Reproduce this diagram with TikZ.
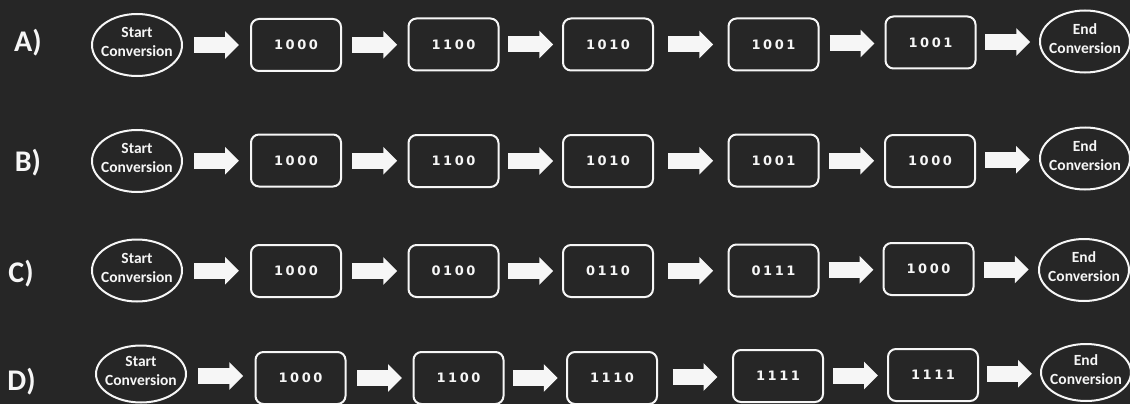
\documentclass[tikz,border=0pt]{standalone}
\usepackage{fontspec}
\setmainfont{Carlito}
\newfontfamily\digitfont[LetterSpace=20]{DejaVu Sans}
\usetikzlibrary{shapes.geometric,arrows.meta,calc}
\definecolor{bg}{HTML}{262626}
\definecolor{fg}{HTML}{F6F6F6}
\newcommand\blkarrow[2]{\draw[blockarrow] ($(#1.east)!0.5!(#2.west)+(-22.5,0)$) -- ++(45,0);}
\newcommand\termtext[2]{\makebox[0pt]{#1}\\\makebox[0pt]{#2}\rule[-6pt]{0pt}{6pt}}
\tikzset{
  term/.style={ellipse, draw=fg, line width=2pt, minimum width=90pt, minimum height=62pt,
    inner sep=0pt, text=fg, align=center, font=\bfseries\fontsize{15.5}{19}\selectfont},
  state/.style={rectangle, rounded corners=8pt, draw=fg, line width=2pt, minimum width=90pt,
    minimum height=52pt, inner sep=0pt, text=fg, font=\digitfont\bfseries\fontsize{13}{15}\selectfont},
  rowlabel/.style={text=fg, inner sep=0pt, font=\bfseries\fontsize{30}{34}\selectfont},
  blockarrow/.style={draw=fg, line width=16pt, -{Triangle[length=14pt,width=27pt]}},
}
\begin{document}
\begin{tikzpicture}[x=1pt,y=-1pt]
\useasboundingbox (0,0) rectangle (1130,404);
\fill[bg] (0,0) rectangle (1130,404);
% Row A
\node[rowlabel] (la) at (28,43) {A)};
\node[term] (sa) at (137,45) {\termtext{Start}{Conversion}};
\node[state] (a1) at (296,45) {1000};
\node[state] (a2) at (453.5,44.5) {1100};
\node[state] (a3) at (608,44.5) {1010};
\node[state] (a4) at (773.5,44.5) {1001};
\node[state] (a5) at (930.5,42.5) {1001};
\node[term] (ea) at (1085,41.5) {\termtext{End}{Conversion}};
\blkarrow{sa}{a1}\blkarrow{a1}{a2}\blkarrow{a2}{a3}\blkarrow{a3}{a4}\blkarrow{a4}{a5}\blkarrow{a5}{ea}
% Row B
\node[rowlabel] (lb) at (28,163) {B)};
\node[term] (sb) at (137,161) {\termtext{Start}{Conversion}};
\node[state] (b1) at (296,160.5) {1000};
\node[state] (b2) at (453.5,161) {1100};
\node[state] (b3) at (608,161) {1010};
\node[state] (b4) at (773.5,160.5) {1001};
\node[state] (b5) at (930,161) {1000};
\node[term] (eb) at (1085,158.5) {\termtext{End}{Conversion}};
\blkarrow{sb}{b1}\blkarrow{b1}{b2}\blkarrow{b2}{b3}\blkarrow{b3}{b4}\blkarrow{b4}{b5}\blkarrow{b5}{eb}
% Row C
\node[rowlabel] (lc) at (21,274) {C)};
\node[term] (sc) at (137,270.5) {\termtext{Start}{Conversion}};
\node[state] (c1) at (296,271) {1000};
\node[state] (c2) at (453.5,271) {0100};
\node[state] (c3) at (608,271) {0110};
\node[state] (c4) at (773.5,270.5) {0111};
\node[state] (c5) at (928.5,269) {1000};
\node[term] (ec) at (1084,270) {\termtext{End}{Conversion}};
\blkarrow{sc}{c1}\blkarrow{c1}{c2}\blkarrow{c2}{c3}\blkarrow{c3}{c4}\blkarrow{c4}{c5}\blkarrow{c5}{ec}
% Row D
\node[rowlabel] (ld) at (21.5,382) {D)};
\node[term, minimum height=57pt] (sd) at (141,374) {\termtext{Start}{Conversion}};
\node[state] (d1) at (300.5,378) {1000};
\node[state] (d2) at (458.5,378) {1100};
\node[state] (d3) at (612,378) {1110};
\node[state] (d4) at (778,376) {1111};
\node[state] (d5) at (933,375) {1111};
\node[term, minimum height=57pt] (ed) at (1086,372.5) {\termtext{End}{Conversion}};
\blkarrow{sd}{d1}\blkarrow{d1}{d2}\blkarrow{d2}{d3}\blkarrow{d3}{d4}\blkarrow{d4}{d5}\blkarrow{d5}{ed}
\end{tikzpicture}
\end{document}
